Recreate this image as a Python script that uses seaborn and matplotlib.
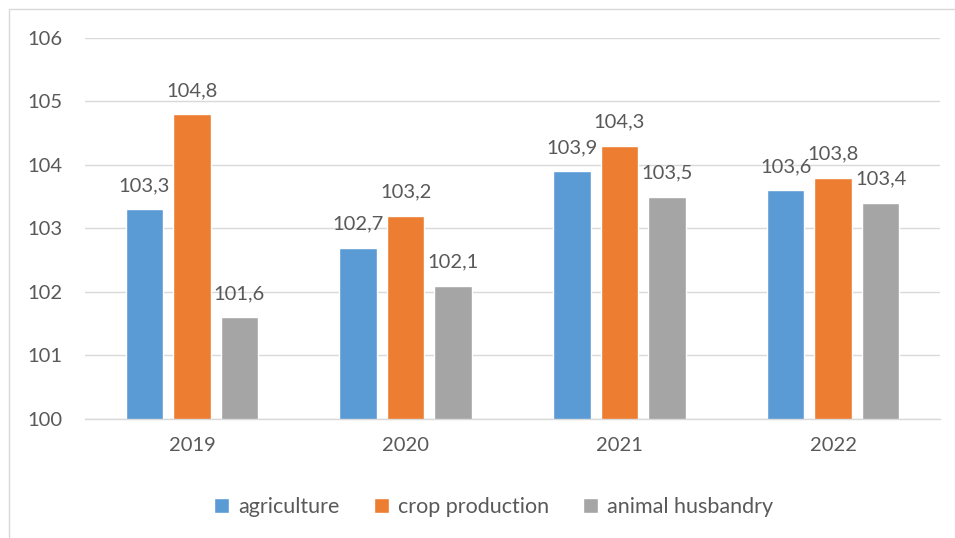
import pandas as pd
import matplotlib.pyplot as plt
import seaborn as sns
from matplotlib.patches import Rectangle

# data
years = ["2019", "2020", "2021", "2022"]
agriculture = [103.3, 102.7, 103.9, 103.6]
crop_production = [104.8, 103.2, 104.3, 103.8]
animal_husbandry = [101.6, 102.1, 103.5, 103.4]
series_names = ["agriculture", "crop production", "animal husbandry"]
colors = ["#5b9bd5", "#ed7d31", "#a5a5a5"]

df = pd.DataFrame({
    "Year": years * 3,
    "Series": [series_names[0]] * 4 + [series_names[1]] * 4 + [series_names[2]] * 4,
    "Value": agriculture + crop_production + animal_husbandry,
})

sns.set_style("white")
plt.rcParams['font.family'] = ['Lato', 'DejaVu Sans']
text_color = "#595959"
fs = 14.5

fig = plt.figure(figsize=(9.55, 5.38), dpi=100)
ax = fig.add_axes([85 / 955, 1 - 419 / 538, 855 / 955, 381 / 538])

sns.barplot(data=df, x="Year", y="Value", hue="Series", palette=colors,
            width=0.667, gap=0.21, ax=ax, saturation=1)

ax.set_ylim(100, 106)
ax.set_yticks(range(100, 107))
ax.set_xlim(-0.5, 3.5)
ax.grid(axis="y", color="#d9d9d9", linewidth=1)
ax.set_axisbelow(True)
for s in ["top", "right", "left"]:
    ax.spines[s].set_visible(False)
ax.spines["bottom"].set_color("#d9d9d9")
ax.spines["bottom"].set_linewidth(1)
ax.tick_params(axis="both", length=0, labelsize=fs, colors=text_color)
ax.tick_params(axis="x", pad=13)
ax.tick_params(axis="y", pad=16.5)
ax.set_xlabel("")
ax.set_ylabel("")

# value labels with comma decimal
for cont, vals in zip(ax.containers, [agriculture, crop_production, animal_husbandry]):
    ax.bar_label(cont, labels=[f"{v:.1f}".replace(".", ",") for v in vals],
                 padding=11, fontsize=fs, color=text_color)

ax.legend(loc="upper center", bbox_to_anchor=(0.478, -0.155), ncol=3, frameon=False,
          fontsize=15.5, handlelength=0.7, handleheight=0.7, handletextpad=0.4,
          columnspacing=1.6, labelcolor=text_color)

# outer frame of the chart area
fig.patches.append(Rectangle((9 / 955, -0.1), 1.1, 1 - 9 / 538 + 0.1, transform=fig.transFigure,
                             fill=False, edgecolor="#d9d9d9", linewidth=1))

plt.savefig("out.png", dpi=100)
